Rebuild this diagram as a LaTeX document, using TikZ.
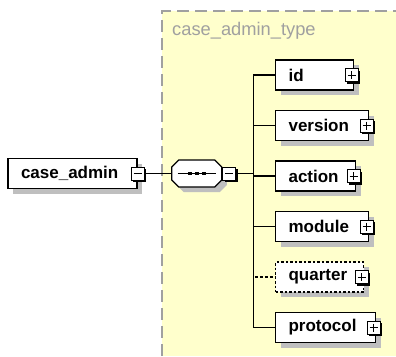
\documentclass[tikz,border=0pt]{standalone}
\usepackage{fontspec}
\setmainfont{Liberation Sans}
\usetikzlibrary{positioning,shadows}

\definecolor{typefill}{RGB}{255,255,204}
\definecolor{typeline}{RGB}{160,160,160}

% outline of the sequence compositor, round its centre
\newcommand{\seqoutline}{(-25,-6.5) -- (-18,-13.5) -- (18,-13.5) -- (25,-6.5)
    -- (25,6.5) -- (18,13.5) -- (-18,13.5) -- (-25,6.5) -- cycle}

\begin{document}
\begin{tikzpicture}
[
    x = 1pt, y = -1pt,
    node distance = 19.4pt and 29pt,
    elem/.style    = {draw, fill=white, line width=1.1pt,
                      minimum height=30pt, inner xsep=13pt, inner ysep=0pt,
                      align=left,
                      font=\fontsize{17}{18}\selectfont\bfseries,
                      drop shadow={shadow xshift=5pt, shadow yshift=-5pt,
                                   fill=black!25, opacity=1}},
    optelem/.style = {elem, dash pattern=on 2.5pt off 2pt},
    seqarea/.style = {minimum width=50pt, minimum height=27pt, inner sep=0pt},
    pmbox/.style   = {draw, fill=white, line width=1pt,
                      minimum size=13pt, inner sep=0pt,
                      drop shadow={shadow xshift=2.2pt, shadow yshift=-2.2pt,
                                   fill=black, opacity=1}},
    minus/.style   = {pmbox, path picture={
                      \draw[line width=1pt]
                        ([xshift=2.5pt]path picture bounding box.west) --
                        ([xshift=-2.5pt]path picture bounding box.east);}},
    plus/.style    = {pmbox, path picture={
                      \draw[line width=1pt]
                        ([xshift=2.5pt]path picture bounding box.west) --
                        ([xshift=-2.5pt]path picture bounding box.east);
                      \draw[line width=1pt]
                        ([yshift=-2.5pt]path picture bounding box.north) --
                        ([yshift=2.5pt]path picture bounding box.south);}},
    link/.style    = {line width=1.1pt},
    optlink/.style = {link, dash pattern=on 3pt off 2pt}
]

\useasboundingbox (0,0) rectangle (396,356);

% complex type area
\fill[typefill] (162,11) rectangle (396,356);
\draw[typeline, line width=1.6pt, dash pattern=on 12pt off 6pt]
    (162,356) |- (396,11);
\node (tname) [anchor=west, inner sep=0pt, text=typeline,
               font=\fontsize{18.3}{20}\selectfont] at (172,31) {
case\_admin\_type
};

% root element
\node (el0) [elem, text width=103pt] at (72.5,173.5) {
case\_admin
};
\node (pm0) [minus] at (el0.east) {};

% sequence
\node (seq) [seqarea, right=27pt of pm0] {};
\fill[black!25, shift={(seq.center)}, shift={(5,5)}] \seqoutline;
\draw[fill=white, line width=1.1pt, shift={(seq.center)}] \seqoutline;
\node (seqpm) [minus, right=0.5pt of seq] {};
\draw[link] ([xshift=6pt]seq.west) -- ([xshift=-6pt]seq.east);
\fill ([xshift=-7pt]seq.center) +(-1.8,-1.8) rectangle +(1.8,1.8);
\fill (seq.center) +(-1.8,-1.8) rectangle +(1.8,1.8);
\fill ([xshift=7pt]seq.center) +(-1.8,-1.8) rectangle +(1.8,1.8);

\draw[link] (pm0) -- (seq);

\coordinate [right=17pt of seqpm] (bus);
\draw[link] (seqpm) -- (bus);

% children
\node (el1) [elem, text width=52pt, anchor=west] at (275,75) {
id
};
\node (pm1) [plus, xshift=-2.5pt] at (el1.east) {};

\node (el2) [elem, text width=67pt, below=of el1.south west, anchor=north west] {
version
};
\node (pm2) [plus, xshift=-2.5pt] at (el2.east) {};

\node (el3) [elem, text width=54pt, below=of el2.south west, anchor=north west] {
action
};
\node (pm3) [plus, xshift=-2.5pt] at (el3.east) {};

\node (el4) [elem, text width=67pt, below=of el3.south west, anchor=north west] {
module
};
\node (pm4) [plus, xshift=-2.5pt] at (el4.east) {};

\node (el5) [optelem, text width=62pt, below=of el4.south west, anchor=north west] {
quarter
};
\node (pm5) [plus, xshift=-2.5pt] at (el5.east) {};

\node (el6) [elem, text width=74pt, below=of el5.south west, anchor=north west] {
protocol
};
\node (pm6) [plus, xshift=-2.5pt] at (el6.east) {};

\draw[optlink] (bus) |- (el5);
\draw[link] (bus) |- (el1);
\draw[link] (bus) |- (el2);
\draw[link] (bus) |- (el3);
\draw[link] (bus) |- (el4);
\draw[link] (bus) |- (el6);

\end{tikzpicture}
\end{document}
